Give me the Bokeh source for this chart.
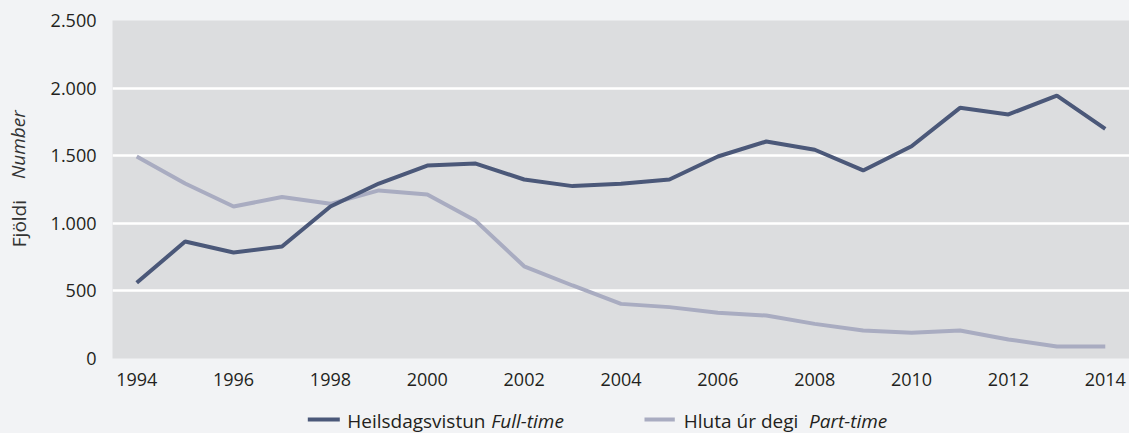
import math
from bokeh.plotting import figure
from bokeh.layouts import column, row
from bokeh.models import FixedTicker, ColumnDataSource
from bokeh.core.properties import value
from bokeh.embed import file_html
from bokeh.resources import INLINE

# ---- data ----
years = list(range(1994, 2015))
full_time = [560, 865, 784, 828, 1124, 1294, 1427, 1442, 1324, 1275, 1292,
             1324, 1494, 1605, 1544, 1391, 1570, 1854, 1805, 1945, 1699]
part_time = [1494, 1294, 1124, 1194, 1144, 1243, 1213, 1018, 682, 540, 404,
             380, 338, 318, 256, 207, 190, 207, 141, 89, 89]
x_ticks = [1994, 1996, 1998, 2000, 2002, 2004, 2006, 2008, 2010, 2012, 2014]
y_ticks = [0, 500, 1000, 1500, 2000, 2500]
y_tick_labels = ["0", "500", "1.000", "1.500", "2.000", "2.500"]
y_label_main = "Fjöldi"
y_label_en = "Number"
series_names = ["Heilsdagsvistun", "Hluta úr degi"]
series_names_en = ["Full-time", "Part-time"]

# ---- style ----
FONT = "Open Sans"
PAGE_BG = "#f2f3f5"
PLOT_BG = "#dcdddf"
DARK = "#4b5879"
LIGHT = "#a9acc1"
TEXT = "#231f20"
W, H = 1129, 433
YLAB_W = 40
MAIN_H = 400
LEG_H = H - MAIN_H


def blank(width, height):
    f = figure(width=width, height=height, x_range=(0, width), y_range=(0, height),
               output_backend="svg", toolbar_location=None, min_border=0)
    f.axis.visible = False
    f.grid.visible = False
    f.outline_line_color = None
    f.background_fill_color = PAGE_BG
    f.background_fill_alpha = 1.0
    f.border_fill_color = PAGE_BG
    f.border_fill_alpha = 1.0
    f.styles = {"background-color": PAGE_BG}
    return f


def txt(f, x, y, s, italic=False, angle=0.0, color=TEXT, size="19px"):
    f.text(x=[x], y=[y], text=[s], angle=angle, text_align="left",
           text_baseline="alphabetic", text_font=value(FONT), text_font_size=size,
           text_color=color, text_font_style="italic" if italic else "normal")


# ---- main chart ----
src = ColumnDataSource(dict(year=years, full=full_time, part=part_time))

p = figure(width=W - YLAB_W, height=MAIN_H, x_range=(1993.5, 2014.5), y_range=(0, 2500),
           output_backend="svg", toolbar_location=None,
           min_border_left=112 - YLAB_W, min_border_right=0, min_border_top=20,
           min_border_bottom=MAIN_H - 358)
p.background_fill_color = PLOT_BG
p.border_fill_color = PAGE_BG
p.outline_line_color = None

p.line("year", "part", source=src, line_color=LIGHT, line_width=4)
p.line("year", "full", source=src, line_color=DARK, line_width=4)

p.xgrid.grid_line_color = None
p.ygrid.grid_line_color = "white"
p.ygrid.grid_line_width = 2.5
p.ygrid.ticker = FixedTicker(ticks=y_ticks)

p.xaxis.ticker = FixedTicker(ticks=x_ticks)
p.yaxis.ticker = FixedTicker(ticks=y_ticks)
p.yaxis.major_label_overrides = {t: l for t, l in zip(y_ticks, y_tick_labels)}
for ax in (p.xaxis, p.yaxis):
    ax.axis_line_color = None
    ax.major_tick_line_color = None
    ax.minor_tick_line_color = None
    ax.major_tick_out = 0
    ax.major_tick_in = 0
    ax.major_label_text_font = FONT
    ax.major_label_text_font_size = "18px"
    ax.major_label_text_color = TEXT
p.xaxis.major_label_standoff = 14
p.yaxis.major_label_standoff = 16

# ---- y-axis title (left strip) ----
yl = blank(YLAB_W, MAIN_H)
txt(yl, 18, MAIN_H - 268.3, y_label_main, angle=math.pi / 2, color="#333333")
txt(yl, 17, MAIN_H - 187.7, y_label_en, italic=True, angle=math.pi / 2, color="#333333")

# ---- legend strip ----
lg = blank(W, LEG_H)
leg_y = LEG_H - 19
base_y = LEG_H - 20
legend_specs = [(DARK, 307.3, 339.3, 346.7, 490.7), (LIGHT, 644.0, 674.3, 683.3, 808.5)]
for (col, l0, l1, tx, tx2), nm, en in zip(legend_specs, series_names, series_names_en):
    lg.segment(x0=[l0], y0=[leg_y], x1=[l1], y1=[leg_y], line_color=col,
               line_width=4, line_cap="butt")
    txt(lg, tx, base_y, nm)
    txt(lg, tx2, base_y, en, italic=True)

layout = column(row(yl, p, spacing=0), lg, spacing=0)

html = file_html(layout, INLINE)
css = "<style>html, body { background: %s !important; margin: 0 !important; }</style>" % PAGE_BG
html = html.replace("</head>", css + "</head>", 1)
open("out.html", "w").write(html)
